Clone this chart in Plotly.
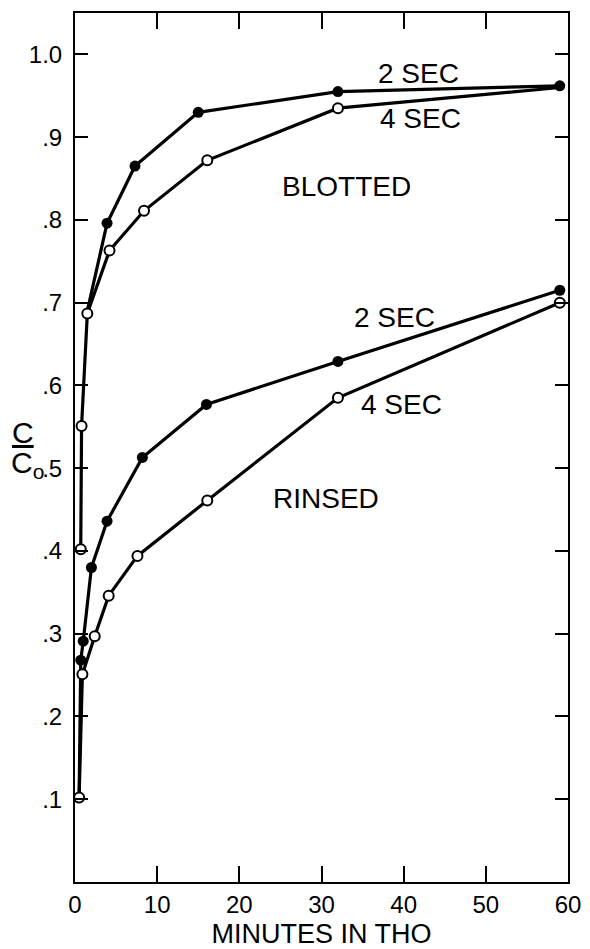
import plotly.graph_objects as go

# ---- data ----
blot2_t = [1.5, 3.9, 7.3, 15.0, 32.0, 59.0]
blot2_c = [0.690, 0.796, 0.865, 0.930, 0.955, 0.962]

blot4_t = [0.7, 0.8, 1.5, 4.2, 8.4, 16.1, 32.0, 59.0]
blot4_c = [0.402, 0.551, 0.687, 0.763, 0.811, 0.872, 0.935, 0.960]

rins2_t = [0.5, 0.7, 1.0, 2.0, 3.9, 8.2, 16.0, 32.0, 59.0]
rins2_c = [0.102, 0.268, 0.291, 0.380, 0.436, 0.513, 0.577, 0.629, 0.715]

rins4_t = [0.5, 0.9, 2.4, 4.1, 7.6, 16.1, 32.0, 59.0]
rins4_c = [0.102, 0.251, 0.297, 0.346, 0.394, 0.461, 0.585, 0.700]

x_ticks = [0, 10, 20, 30, 40, 50, 60]
y_ticks = [0.1, 0.2, 0.3, 0.4, 0.5, 0.6, 0.7, 0.8, 0.9, 1.0]
y_ticktext = [".1", ".2", ".3", ".4", ".5", ".6", ".7", ".8", ".9", "1.0"]

labels = [
    ("2 SEC", 41.8, 0.977),
    ("4 SEC", 42.1, 0.923),
    ("BLOTTED", 33.0, 0.840),
    ("2 SEC", 38.9, 0.682),
    ("4 SEC", 39.7, 0.577),
    ("RINSED", 30.6, 0.463),
]

FONT = "Liberation Sans"
LW = 3.2


def line_trace(t, c):
    return go.Scatter(x=t, y=c, mode="lines",
                      line=dict(color="black", width=LW),
                      showlegend=False, hoverinfo="skip")


def filled_marks(t, c):
    return go.Scatter(x=t, y=c, mode="markers",
                      marker=dict(symbol="circle", size=11, color="black"),
                      showlegend=False, hoverinfo="x+y")


def open_marks(t, c):
    return go.Scatter(x=t, y=c, mode="markers",
                      marker=dict(symbol="circle", size=10, color="white",
                                  line=dict(color="black", width=2)),
                      showlegend=False, hoverinfo="x+y")


fig = go.Figure()
# lines first
for t, c in [(blot2_t, blot2_c), (blot4_t, blot4_c), (rins2_t, rins2_c), (rins4_t, rins4_c)]:
    fig.add_trace(line_trace(t, c))
# blotted: 4 SEC open marks (last one lies under the filled 2 SEC point)
fig.add_trace(open_marks(blot4_t[:-1], blot4_c[:-1]))
fig.add_trace(filled_marks(blot2_t[1:], blot2_c[1:]))
fig.add_trace(filled_marks(rins2_t[1:], rins2_c[1:]))
fig.add_trace(open_marks(rins4_t, rins4_c))

for txt, x, y in labels:
    fig.add_annotation(x=x, y=y, xref="x", yref="y", text=txt, showarrow=False,
                       xanchor="center", yanchor="middle",
                       font=dict(family=FONT, size=28, color="black"))

# y-axis title as a fraction C / Co
fig.add_annotation(x=-0.132, y=0.517, xref="paper", yref="paper", text="<u>C</u>",
                   showarrow=False, xanchor="left", yanchor="middle",
                   font=dict(family=FONT, size=30, color="black"))
fig.add_annotation(x=-0.134, y=0.480, xref="paper", yref="paper", text="C<sub>o</sub>",
                   showarrow=False, xanchor="left", yanchor="middle",
                   font=dict(family=FONT, size=30, color="black"))

fig.update_xaxes(range=[0, 60], tickvals=x_ticks, ticks="inside", ticklen=16,
                 tickwidth=2, tickcolor="black", showline=True, linecolor="black",
                 linewidth=2, mirror="ticks", showgrid=False, zeroline=False,
                 automargin=False,
                 tickfont=dict(family=FONT, size=24, color="black"),
                 title=dict(text="MINUTES IN THO", standoff=8,
                            font=dict(family=FONT, size=27, color="black")))
fig.update_yaxes(range=[0, 1.05], tickvals=y_ticks, ticktext=y_ticktext,
                 ticks="inside", ticklen=13, tickwidth=2, tickcolor="black",
                 showline=True, linecolor="black", linewidth=2, mirror="ticks",
                 showgrid=False, zeroline=False, ticklabelstandoff=6,
                 automargin=False,
                 tickfont=dict(family=FONT, size=24, color="black"))

# page body adds an 8px margin, so the figure is 8px smaller than the window
fig.update_layout(width=582, height=941, margin=dict(l=67, r=22, t=5, b=67),
                  plot_bgcolor="white", paper_bgcolor="white",
                  font=dict(family=FONT, color="black"))

fig.write_html("out.html")
